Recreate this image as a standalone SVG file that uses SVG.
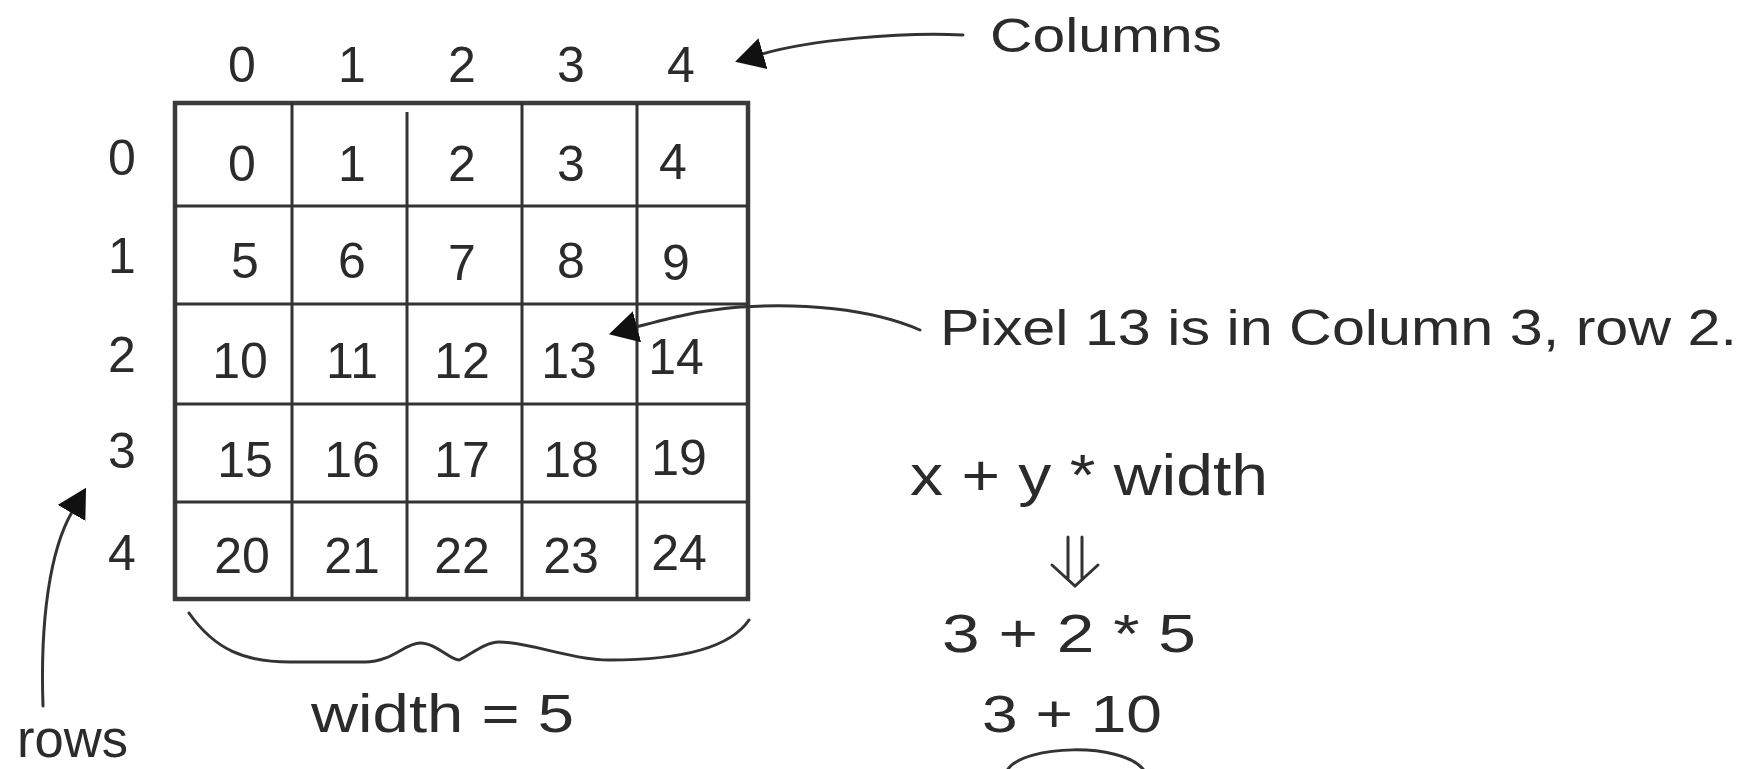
<svg xmlns="http://www.w3.org/2000/svg" width="1748" height="769" viewBox="0 0 1748 769">
<defs>
<style>
.t{font-family:"Liberation Sans","DejaVu Sans",sans-serif;fill:#2b2b2b}
.d{font-size:50px;text-anchor:middle}
.g{stroke:#333;stroke-width:3;fill:none}
.o{stroke:#3a3a3a;stroke-width:4.5;fill:none}
.c{stroke:#333;stroke-width:3;fill:none;stroke-linecap:round}
</style>
<marker id="ah" markerUnits="userSpaceOnUse" viewBox="0 0 29 32" refX="1" refY="16" markerWidth="29" markerHeight="32" orient="auto">
<path d="M0,0 L29,16 L0,32 Z" fill="#111"/>
</marker>
</defs>
<rect width="1748" height="769" fill="#fff"/>

<g id="grid">
<rect class="o" x="175" y="103" width="573" height="496"/>
<path class="g" d="M292,103V599M407,112V599M522,103V599M637,103V599M175,206H748M175,304H748M175,404H748M175,502H748"/>
</g>

<g id="column-labels" class="t d">
<text x="242" y="82">0</text>
<text x="352" y="82">1</text>
<text x="462" y="82">2</text>
<text x="571" y="82">3</text>
<text x="681" y="82">4</text>
</g>

<g id="row-labels" class="t d">
<text x="122" y="175">0</text>
<text x="122" y="273">1</text>
<text x="122" y="372">2</text>
<text x="122" y="468">3</text>
<text x="122" y="570">4</text>
</g>

<g id="cells" class="t d">
<g id="row0">
<text x="242" y="181">0</text><text x="352" y="181">1</text><text x="462" y="181">2</text><text x="571" y="181">3</text><text x="673" y="179">4</text>
</g>
<g id="row1">
<text x="245" y="278">5</text><text x="352" y="278">6</text><text x="462" y="280">7</text><text x="571" y="278">8</text><text x="676" y="280">9</text>
</g>
<g id="row2">
<text x="240" y="378">10</text><text x="352" y="378">11</text><text x="462" y="378">12</text><text x="569" y="378">13</text><text x="676" y="374">14</text>
</g>
<g id="row3">
<text x="245" y="477">15</text><text x="352" y="477">16</text><text x="462" y="477">17</text><text x="571" y="477">18</text><text x="679" y="475">19</text>
</g>
<g id="row4">
<text x="242" y="573">20</text><text x="352" y="573">21</text><text x="462" y="573">22</text><text x="571" y="573">23</text><text x="679" y="570">24</text>
</g>
</g>

<g id="brace">
<path class="c" d="M189,613 C215,650 245,662 290,662 L365,662 C392,662 405,643 420,643 C436,643 450,660 459,660 C470,655 485,642 499,642 C530,642 570,660 610,660 C680,660 730,648 749,620"/>
</g>

<g id="label-columns"><text class="t" x="990" y="52" font-size="48" textLength="232" lengthAdjust="spacingAndGlyphs">Columns</text></g>
<g id="label-pixel"><text class="t" x="940" y="345" font-size="50" textLength="797" lengthAdjust="spacingAndGlyphs">Pixel 13 is in Column 3, row 2.</text></g>
<g id="label-width"><text class="t" x="311" y="732" font-size="54" textLength="263" lengthAdjust="spacingAndGlyphs">width = 5</text></g>
<g id="label-rows"><text class="t" x="17" y="757" font-size="54" textLength="111" lengthAdjust="spacingAndGlyphs">rows</text></g>

<g id="formula">
<text class="t" x="910" y="495" font-size="58" textLength="358" lengthAdjust="spacingAndGlyphs">x + y * width</text>
<g id="implies">
<path class="c" d="M1068,537V578M1082,537V578M1052,565L1075,586L1098,565" stroke-width="3"/>
</g>
<text class="t" x="942" y="652" font-size="54" textLength="254" lengthAdjust="spacingAndGlyphs">3 + 2 * 5</text>
<text class="t" x="982" y="732" font-size="52" textLength="180" lengthAdjust="spacingAndGlyphs">3 + 10</text>
<path class="c" d="M1008,769 C1025,745 1120,742 1143,769"/>
</g>

<g id="connectors">
<path class="c" marker-end="url(#ah)" d="M963,35 C900,32 810,40 762,54"/>
<path class="c" marker-end="url(#ah)" d="M920,330 C870,308 800,303 740,307 C700,310 670,318 636,327"/>
<path class="c" marker-end="url(#ah)" d="M43,706 C40,620 50,550 72,512"/>
</g>
</svg>
